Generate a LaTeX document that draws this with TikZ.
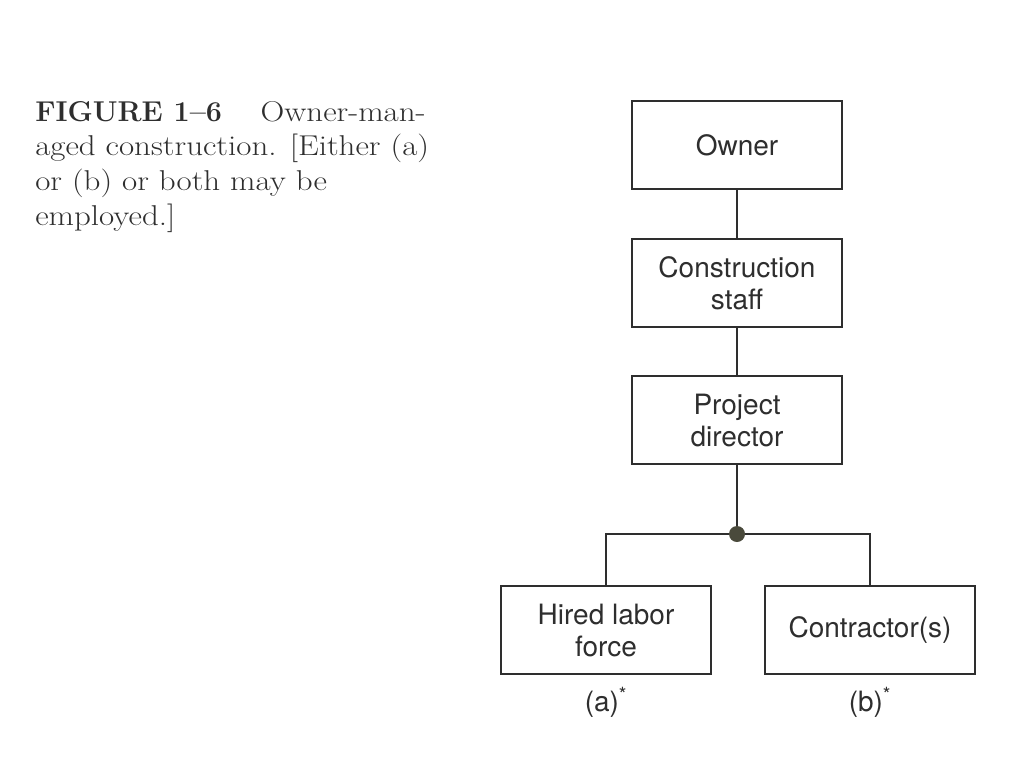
\documentclass[tikz,border=0pt]{standalone}
\usepackage{fontspec}
\setmainfont{Latin Modern Roman}[FakeStretch=1.15, BoldFeatures={FakeStretch=1.0}]
\newfontfamily\boxfont{TeX Gyre Heros}
\usetikzlibrary{positioning}
\definecolor{ink}{HTML}{2E2E2E}
\definecolor{dotgray}{HTML}{4A4A3C}
\begin{document}
\begin{tikzpicture}[x=0.75pt, y=-0.75pt,
        unit/.style={draw=ink, line width=1.5pt, minimum width=157.5pt, minimum height=66pt,
            inner sep=0pt, align=center, text=ink, font=\boxfont\fontsize{21}{24}\selectfont},
        tag/.style={inner sep=0pt, text=ink, font=\boxfont\fontsize{21}{24}\selectfont},
        link/.style={draw=ink, line width=1.5pt}]
    \useasboundingbox (0,0) rectangle (1024,768);
    % caption
    \node[anchor=north west, align=left, inner sep=0pt, text=ink,
        font=\fontsize{21.5}{26}\selectfont] (caption) at (35,101)
        {\textbf{FIGURE 1--6}\quad\ Owner-man-\\aged construction. [Either (a)\\or (b) or both may be\\employed.]};
    % chain of command
    \node[unit] (owner) at (737,145) {Owner};
    \node[unit] (staff) at (737,283) {Construction\\staff};
    \node[unit] (director) at (737,420) {Project\\director};
    \node[circle, fill=dotgray, inner sep=0pt, minimum size=12pt] (fork) at (737,534) {};
    \node[unit] (hired) at (606,630) {Hired labor\\force};
    \node[unit] (contractor) at (870,630) {Contractor(s)};
    \node[tag, below=9pt of hired] (taga) {(a)\textsuperscript{*}};
    \node[tag, below=9pt of contractor] (tagb) {(b)\textsuperscript{*}};
    % connectors
    \draw[link] (owner) -- (staff);
    \draw[link] (staff) -- (director);
    \draw[link] (director) -- (fork);
    \draw[link] (fork) -| (hired);
    \draw[link] (fork) -| (contractor);
\end{tikzpicture}
\end{document}
